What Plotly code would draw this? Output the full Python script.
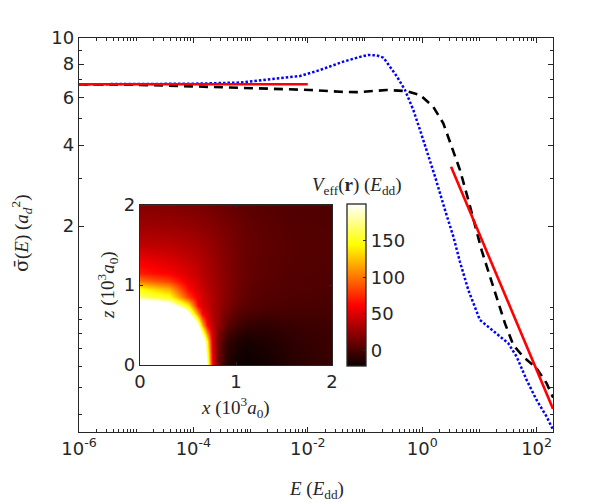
import numpy as np
import plotly.graph_objects as go

# --- main panel: cross section vs energy (log-log) ---
E_blue = [1e-6, 1e-5, 1e-4, 6.5e-4, 1.95e-3, 7.3e-3, 0.0163, 0.042, 0.082, 0.113,
          0.16, 0.21, 0.27, 0.36, 0.5, 0.7, 0.916, 1.2, 1.68, 2.51, 3.5, 4.58,
          6.4, 10.2, 15.3, 32.0, 44.9, 67.1, 100.0, 150.0, 195.0]
sig_blue = [6.73, 6.73, 6.76, 6.83, 7.0, 7.22, 7.6, 8.17, 8.51, 8.65,
            8.62, 8.45, 7.85, 7.2, 6.41, 5.4, 4.55, 3.83, 3.05, 2.29, 1.83, 1.47,
            1.157, 0.895, 0.834, 0.733, 0.653, 0.535, 0.451, 0.391, 0.349]

E_black = [1e-6, 1e-5, 6e-5, 1e-3, 7.3e-3, 0.0109, 0.0366, 0.0716, 0.138, 0.239,
           0.536, 0.916, 1.56, 2.34, 3.28, 4.58, 6.4, 8.97, 11.0, 13.4, 18.8,
           28.0, 39.2, 58.6, 100.0, 150.0, 195.0]
sig_black = [6.73, 6.70, 6.63, 6.52, 6.44, 6.41, 6.31, 6.29, 6.35, 6.41,
             6.35, 6.14, 5.55, 4.82, 3.94, 3.23, 2.50, 1.88, 1.62, 1.42, 1.125,
             0.869, 0.722, 0.653, 0.592, 0.52, 0.46]

E_low = [1e-6, 1e-2]
sig_low = [6.73, 6.73]
E_high = [3.2, 194.0]
sig_high = [3.32, 0.418]

# --- inset: effective potential V_eff(x, z), units E_dd ---
x_in = [0, 0.3, 0.5, 0.6, 0.65, 0.7, 0.75, 0.8, 0.9, 1.0, 1.1, 1.3, 1.6, 2.0]
z_in = [0, 0.3, 0.5, 0.65, 0.75, 0.85, 0.95, 1.05, 1.15, 1.3, 1.5, 1.75, 2.0]
V_in = [
    [400, 400, 400, 380, 320, 185, 62, 15, -12, -20, -22, -19, -12, -6],
    [400, 400, 390, 340, 240, 145, 50, 18, -6, -14, -17, -15, -9, -5],
    [400, 400, 330, 190, 120, 62, 40, 26, 8, -2, -7, -9, -6, -4],
    [400, 360, 200, 100, 62, 46, 36, 28, 15, 6, 1, -2, -2, -2],
    [260, 215, 140, 60, 50, 42, 35, 29, 18, 10, 5, 1.5, 0, -0.5],
    [170, 150, 82, 54, 47, 41, 35, 29, 20, 12, 7, 3, 1, 0],
    [145, 120, 64, 48, 43, 38, 32, 28, 20, 13, 8, 4, 2, 0.5],
    [100, 82, 54, 45, 40, 35, 31, 27, 20, 14, 9, 5, 2.5, 1],
    [70, 60, 48, 41, 37, 33, 29, 26, 20, 14, 10, 5.5, 3, 1.5],
    [58, 50, 42, 37, 34, 31, 28, 25, 19, 14, 10, 6, 3.5, 2],
    [40, 38, 34, 31, 29, 27, 25, 22, 18, 14, 10, 7, 4, 2.5],
    [28, 27, 25, 23, 22, 21, 19, 18, 15, 12, 9, 6, 3, 2],
    [20, 19, 17, 16, 15, 14, 13, 12, 10, 8, 6, 4, 2, 1],
]

x_ticks = [1e-6, 1e-4, 1e-2, 1, 1e2]
x_labels = ["10<sup>-6</sup>", "10<sup>-4</sup>", "10<sup>-2</sup>",
            "10<sup>0</sup>", "10<sup>2</sup>"]
y_ticks = [2, 4, 6, 8, 10]
y_labels = ["2", "4", "6", "8", "10"]

# matlab "hot"
hot = [[0, "rgb(10,0,0)"], [0.375, "rgb(255,0,0)"],
       [0.75, "rgb(255,255,0)"], [1, "rgb(255,255,255)"]]

axc = "#262626"
sans = dict(family="DejaVu Sans", size=18, color=axc)
serif = "Liberation Serif"

# minor tick positions
x_minor = [m * 10.0**d for d in range(-6, 3) for m in range(1, 10)
           if not (m == 1 and d % 2 == 0)]
y_minor = [0.4, 0.5, 0.6, 0.7, 0.8, 0.9, 1, 3, 5, 7, 9]

fig = go.Figure()
fig.add_trace(go.Scatter(x=E_blue, y=sig_blue, mode="lines",
                         line=dict(color="#0000ff", width=2.5, dash="2.5px,2px")))
fig.add_trace(go.Scatter(x=E_black, y=sig_black, mode="lines",
                         line=dict(color="black", width=2.6, dash="9px,6px")))
fig.add_trace(go.Scatter(x=E_low, y=sig_low, mode="lines",
                         line=dict(color="#ff0000", width=2.6)))
fig.add_trace(go.Scatter(x=E_high, y=sig_high, mode="lines",
                         line=dict(color="#ff0000", width=2.6)))

fig.add_trace(go.Heatmap(x=x_in, y=z_in, z=V_in, zsmooth="best",
                         zmin=-22, zmax=200, colorscale=hot,
                         xaxis="x2", yaxis="y2",
                         colorbar=dict(x=0.5654, xanchor="left", y=0.372, yanchor="middle",
                                       len=162, lenmode="pixels", thickness=19,
                                       xpad=0, ypad=0,
                                       outlinewidth=1.3, outlinecolor=axc,
                                       tickvals=[0, 50, 100, 150], ticks="inside",
                                       ticklen=3, tickcolor=axc, tickfont=sans)))

# page body adds ~8px, so figure is 8px smaller and margins shifted
fig.update_layout(
    width=604, height=494,
    margin=dict(l=71, r=59, t=30, b=70),
    paper_bgcolor="white", plot_bgcolor="white",
    showlegend=False,
    xaxis=dict(type="log", range=[-6, 2.287], tickvals=x_ticks, ticktext=x_labels,
               ticks="inside", ticklen=5, tickcolor=axc, linecolor=axc, linewidth=1.3,
               mirror="ticks", showgrid=False, zeroline=False, tickfont=sans,
               minor=dict(tickvals=x_minor, ticks="inside", ticklen=3, tickcolor=axc)),
    yaxis=dict(type="log", range=[np.log10(0.343), 1], tickvals=y_ticks, ticktext=y_labels,
               ticks="inside", ticklen=5, tickcolor=axc, linecolor=axc, linewidth=1.3,
               mirror="ticks", showgrid=False, zeroline=False, tickfont=sans,
               minor=dict(tickvals=y_minor, ticks="inside", ticklen=3, tickcolor=axc)),
    xaxis2=dict(domain=[0.1287, 0.5338], anchor="y2", range=[0, 2], tickvals=[0, 1, 2],
                ticks="inside", ticklen=3, tickcolor=axc, linecolor=axc, linewidth=1.3,
                mirror="ticks", showgrid=False, zeroline=False, tickfont=sans),
    yaxis2=dict(domain=[0.170, 0.576], anchor="x2", range=[0, 2], tickvals=[0, 1, 2],
                ticks="inside", ticklen=3, tickcolor=axc, linecolor=axc, linewidth=1.3,
                mirror="ticks", showgrid=False, zeroline=False, tickfont=sans),
)

ann = dict(xref="paper", yref="paper", showarrow=False, xanchor="center", yanchor="middle",
           font=dict(family=serif, size=19, color=axc))
fig.add_annotation(ann, x=0.5, y=-0.147, text="<i>E</i> (<i>E</i><sub>dd</sub>)")
fig.add_annotation(ann, x=-0.1224, y=0.505, textangle=-90,
                   text="<span style='font-family:DejaVu Serif'>σ̄</span>(<i>E</i>) "
                        "(<i>a</i><sub><i>d</i></sub><sup>2</sup>)")
fig.add_annotation(ann, x=0.331, y=0.061,
                   text="<i>x</i> (10<sup>3</sup><i>a</i><sub>0</sub>)")
fig.add_annotation(ann, x=0.059, y=0.373, textangle=-90,
                   text="<i>z</i> (10<sup>3</sup><i>a</i><sub>0</sub>)")
fig.add_annotation(ann, x=0.5865, y=0.624,
                   text="<i>V</i><sub>eff</sub>(<b>r</b>) (<i>E</i><sub>dd</sub>)")

fig.write_html("out.html")
